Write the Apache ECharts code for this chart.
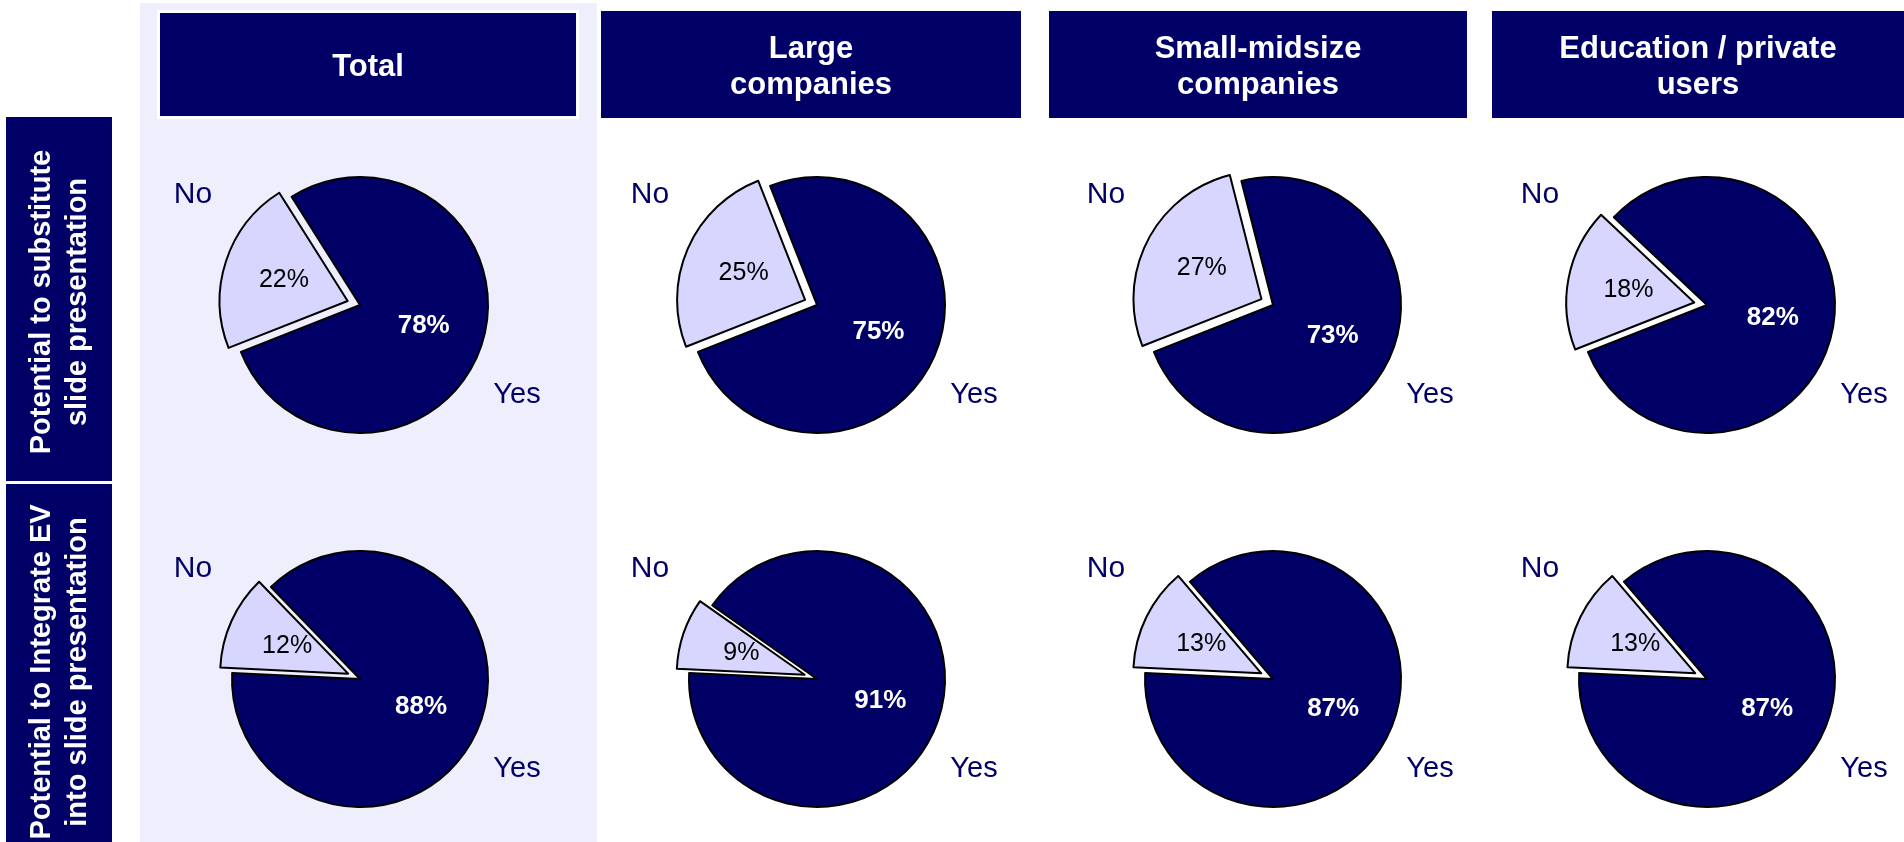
<!DOCTYPE html>
<html>
<head>
<meta charset="utf-8">
<script src="https://cdn.jsdelivr.net/npm/echarts@6/dist/echarts.min.js"></script>
<style>
html,body{margin:0;padding:0;background:#fff;}
#chart{width:1904px;height:842px;}
</style>
</head>
<body>
<div id="chart"></div>
<script>
// ---- data ----
const categories = ['No', 'Yes'];
const segments = ['Total', 'Large\ncompanies', 'Small-midsize\ncompanies', 'Education / private\nusers'];
const rowLabels = ['Potential to substitute\nslide presentation', 'Potential to Integrate EV\ninto slide presentation'];
const substituteNo  = [22, 25, 27, 18];
const substituteYes = [78, 75, 73, 82];
const integrateNo   = [12, 9, 13, 13];
const integrateYes  = [88, 91, 87, 87];

// ---- layout ----
const FONT = '"Liberation Sans", Arial, sans-serif';
const NAVY = '#000066';
const LIGHT = '#D6D6FF';
const PANEL = '#EEEEFC';
const colCX = [360, 817, 1273, 1707];
const rowCY = [305, 679];
const rowStart = [201.5, 177.3];
const R = 128;
const headers = [[160, 13, 416, 103], [601, 11, 420, 107], [1049, 11, 418, 107], [1492, 11, 412, 107]];
const rowBoxes = [[6, 117, 106, 364], [6, 484, 106, 358]];
const rowTextY = [302, 672];

const rows = [[substituteNo, substituteYes], [integrateNo, integrateYes]];

const graphic = [];
graphic.push({type: 'rect', z: -10, shape: {x: 140, y: 3, width: 457, height: 839}, style: {fill: PANEL}});
// white frame around Total header
graphic.push({type: 'rect', z: -9, shape: {x: 157, y: 10, width: 422, height: 109}, style: {fill: '#fff'}});
headers.forEach((h, i) => {
  graphic.push({type: 'rect', z: -8, shape: {x: h[0], y: h[1], width: h[2], height: h[3]}, style: {fill: NAVY}});
  graphic.push({type: 'text', z: -7, x: h[0] + h[2] / 2, y: h[1] + h[3] / 2 + 3,
    style: {text: segments[i], fill: '#fff', font: 'bold 31px ' + FONT, lineHeight: 36,
      textAlign: 'center', textVerticalAlign: 'middle'}});
});
rowBoxes.forEach((b, i) => {
  graphic.push({type: 'rect', z: -8, shape: {x: b[0], y: b[1], width: b[2], height: b[3]}, style: {fill: NAVY}});
  graphic.push({type: 'text', z: -7, x: 60, y: rowTextY[i], rotation: Math.PI / 2,
    style: {text: rowLabels[i], fill: '#fff', font: 'bold 29px ' + FONT, lineHeight: 36,
      textAlign: 'center', textVerticalAlign: 'middle'}});
});

const series = [];
rows.forEach((row, r) => {
  colCX.forEach((cx, c) => {
    const cy = rowCY[r];
    // category name labels
    graphic.push({type: 'text', x: cx - 167, y: cy - 110,
      style: {text: categories[0], fill: NAVY, font: '30px ' + FONT, textAlign: 'center', textVerticalAlign: 'middle'}});
    graphic.push({type: 'text', x: cx + 157, y: cy + 90,
      style: {text: categories[1], fill: NAVY, font: '29px ' + FONT, textAlign: 'center', textVerticalAlign: 'middle'}});
    const noStyle = {color: LIGHT, borderColor: '#000', borderWidth: 2};
    const yesStyle = {color: NAVY, borderColor: '#000', borderWidth: 2};
    const noLabel = {color: '#000', fontSize: 25, fontWeight: 'normal', fontFamily: FONT, textBorderWidth: 0};
    const yesLabel = {color: '#fff', fontSize: 26, fontWeight: 'bold', fontFamily: FONT, textBorderWidth: 0};
    series.push({
      type: 'pie',
      center: [cx, cy],
      radius: R,
      startAngle: rowStart[r],
      clockwise: true,
      selectedMode: 'single',
      selectedOffset: 13,
      avoidLabelOverlap: false,
      animation: false,
      emphasis: {disabled: true},
      label: {show: true, position: 'inside', formatter: '{c}%'},
      labelLine: {show: false},
      data: [
        {name: categories[0], value: row[0][c], selected: true, itemStyle: noStyle, label: noLabel,
          select: {itemStyle: noStyle, label: noLabel}},
        {name: categories[1], value: row[1][c], itemStyle: yesStyle, label: yesLabel,
          select: {itemStyle: yesStyle, label: yesLabel}}
      ]
    });
  });
});

const chart = echarts.init(document.getElementById('chart'), null, {renderer: 'canvas'});
chart.setOption({
  animation: false,
  backgroundColor: '#fff',
  textStyle: {fontFamily: FONT},
  graphic: graphic,
  series: series
});
</script>
</body>
</html>
